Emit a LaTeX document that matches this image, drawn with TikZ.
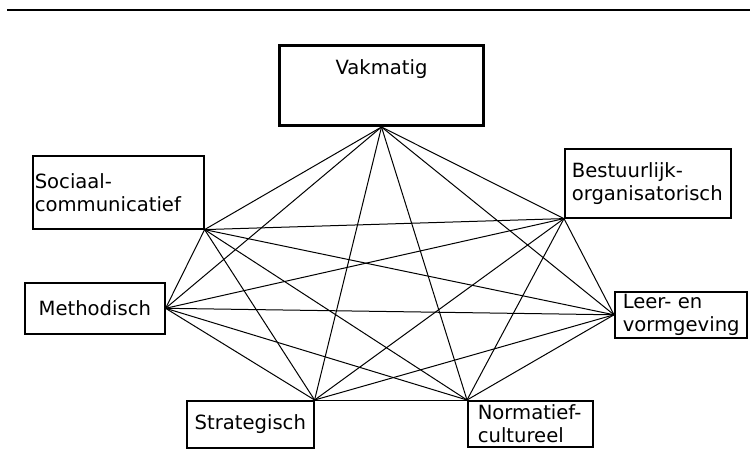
\documentclass[tikz,border=0pt]{standalone}
\usepackage{fontspec}
\newfontfamily\boxfont{DejaVu Sans}
\begin{document}
\begin{tikzpicture}[x=1pt, y=-1pt,
        box/.style={draw, line width=1.6pt, inner ysep=0pt, anchor=north west,
            font=\boxfont\fontsize{19.6}{23}\selectfont},
        edge/.style={line width=1pt}]
        \useasboundingbox (0,0) rectangle (750,454);
        % rule on top
        \draw[line width=2.2pt] (7,10) -- (750,10);
        % seven boxes
        \node[box, line width=3pt, inner sep=0pt, minimum width=204pt,
            text height=29pt, text depth=51pt] (vak) at (278,44) {Vakmatig};
        \node[box, align=left, inner xsep=2pt, text width=167pt, minimum height=73pt] (soc) at (32,155) {Sociaal-\\communicatief};
        \node[box, align=left, inner xsep=7pt, text width=152pt, minimum height=69pt] (best) at (564,148) {Bestuurlijk-\\organisatorisch};
        \node[box, minimum width=140pt, minimum height=51pt] (meth) at (24,282) {Methodisch};
        \node[box, align=left, inner xsep=8pt, text width=116pt, minimum height=46pt] (leer) at (614,291) {Leer- en\\vormgeving};
        \node[box, minimum width=127pt, minimum height=47pt] (strat) at (186,400) {Strategisch};
        \node[box, align=left, inner xsep=10pt, text width=105pt, minimum height=46pt] (norm) at (467,400) {Normatief-\\cultureel};
        % every box linked to every other
        \foreach \a/\b in {vak.south/soc.south east, vak.south/best.south west,
                vak.south/meth.east, vak.south/leer.west, vak.south/strat.north east,
                vak.south/norm.north west,
                soc.south east/best.south west, soc.south east/meth.east,
                soc.south east/leer.west, soc.south east/strat.north east,
                soc.south east/norm.north west,
                best.south west/meth.east, best.south west/leer.west,
                best.south west/strat.north east, best.south west/norm.north west,
                meth.east/leer.west, meth.east/strat.north east, meth.east/norm.north west,
                leer.west/strat.north east, leer.west/norm.north west,
                strat.north east/norm.north west}
            \draw[edge] (\a) -- (\b);
    \end{tikzpicture}
\end{document}
